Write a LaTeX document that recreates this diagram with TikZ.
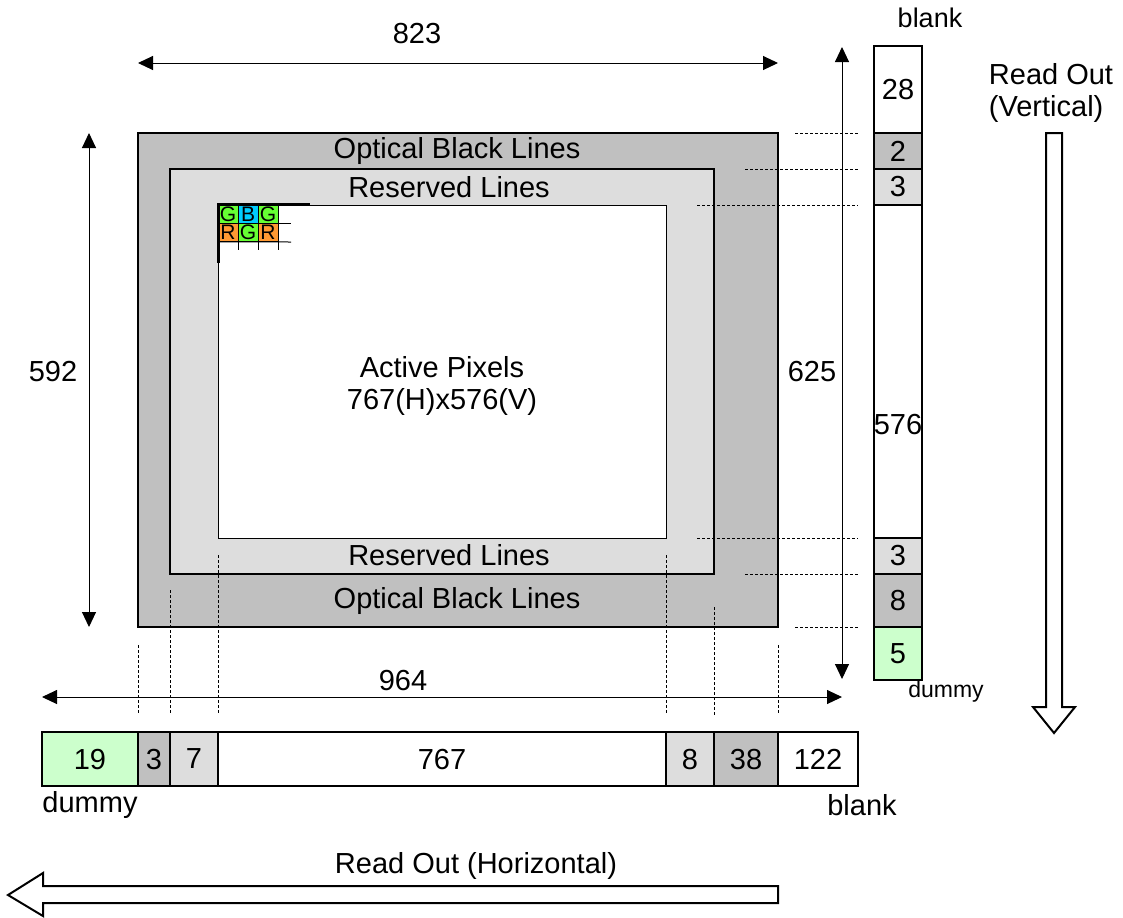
\documentclass[tikz,border=0pt]{standalone}
\usepackage{fontspec}
\setmainfont{Liberation Sans}
\usepackage{xcolor}
\definecolor{obgray}{HTML}{C0C0C0}
\definecolor{resgray}{HTML}{DDDDDD}
\definecolor{dummygreen}{HTML}{CCFFCC}
\definecolor{pixgreen}{HTML}{66FF33}
\definecolor{pixblue}{HTML}{00CCFF}
\definecolor{pixorange}{HTML}{FF9933}
\usetikzlibrary{positioning,arrows.meta}

\begin{document}
\begin{tikzpicture}[x=0.5pt,y=-0.5pt,
      area/.style={draw, line width=1pt, inner sep=0pt, outer sep=0pt},
      cellbox/.style={draw, line width=1pt, inner sep=0pt, outer sep=0pt,
                  font=\fontsize{14.5}{17}\selectfont},
      colw/.style={minimum width=24pt},
      rowh/.style={minimum height=27pt},
      pix/.style={draw, line width=0.4pt, inner sep=0pt, outer sep=0pt,
                  minimum width=10pt, minimum height=9.25pt, font=\fontsize{10.5}{10.5}\selectfont},
      lbl/.style={inner sep=0pt, font=\fontsize{14.5}{16}\selectfont},
      dimarr/.style={{Triangle[length=7.5pt,width=7pt]}-{Triangle[length=7.5pt,width=7pt]}, line width=0.5pt},
      guide/.style={line width=0.5pt, dash pattern=on 1.5pt off 1pt},
      blockarr/.style={draw, line width=1pt, fill=white, line join=miter}]
    \useasboundingbox (0,0) rectangle (1123,917);
    % sensor areas
    \node[area, fill=obgray, minimum width=320pt, minimum height=247pt] (ob) at (458,380) {};
    \node[area, fill=resgray, minimum width=272pt, minimum height=202.5pt] (res) at (442,371.5) {};
    \node[draw, line width=0.5pt, fill=white, inner sep=0pt, outer sep=0pt,
          minimum width=224pt, minimum height=166.5pt] (act) at (442,371.5) {};
    \node[lbl] (obtop) at (457,151) {Optical Black Lines};
    \node[lbl] (restop) at (449,187) {Reserved Lines};
    \node[lbl] (resbot) at (449,555) {Reserved Lines};
    \node[lbl] (obbot) at (457,601) {Optical Black Lines};
    \node[lbl, align=center] (acttxt) at (442,386) {Active Pixels\\767(H)x576(V)};
    % colour filter corner
    \foreach \col/\row/\clr/\ltr in {0/0/pixgreen/G,1/0/pixblue/B,2/0/pixgreen/G,
                                     0/1/pixorange/R,1/1/pixgreen/G,2/1/pixorange/R}
      \node[pix, fill=\clr] (px\col\row) at (228+20*\col,214+18.5*\row) {\ltr};
    \draw[line width=1.5pt] (310,204) -| (218,263);
    \draw[line width=0.5pt] (px20.south east) -- ++(13,0);
    \draw[line width=0.5pt] (px01.south west) -- (291,242);
    \foreach \col in {0,1,2}
      \draw[line width=0.5pt] (px\col1.south east) -- ++(0,8);
    % vertical line counts
    \node[cellbox, colw, fill=white, minimum height=43.5pt] (v28) at (898,89.5) {28};
    \node[cellbox, colw, fill=obgray, minimum height=18pt, below=0pt of v28] (v2) {2};
    \node[cellbox, colw, fill=resgray, minimum height=18pt, below=0pt of v2] (v3a) {3};
    \node[cellbox, colw, fill=white, minimum height=166.5pt, below=0pt of v3a] (v576) {};
    \node[cellbox, colw, fill=resgray, minimum height=18pt, below=0pt of v576] (v3b) {3};
    \node[cellbox, colw, fill=obgray, minimum height=26.5pt, below=0pt of v3b] (v8) {8};
    \node[cellbox, colw, fill=dummygreen, minimum height=26.5pt, below=0pt of v8] (v5) {5};
    \node[lbl] (v576txt) at (898,425) {576};
    \node[lbl, font=\fontsize{13.5}{15}\selectfont] (vblank) at (930,18) {blank};
    \node[lbl, font=\fontsize{11.5}{13}\selectfont] (vdummy) at (946,692) {dummy};
    % horizontal pixel counts
    \node[cellbox, rowh, fill=dummygreen, minimum width=48pt] (h19) at (90,759) {19};
    \node[cellbox, rowh, fill=obgray, minimum width=16pt, right=0pt of h19] (h3) {3};
    \node[cellbox, rowh, fill=resgray, minimum width=24pt, right=0pt of h3] (h7) {7};
    \node[cellbox, rowh, fill=white, minimum width=224pt, right=0pt of h7] (h767) {767};
    \node[cellbox, rowh, fill=resgray, minimum width=24pt, right=0pt of h767] (h8) {8};
    \node[cellbox, rowh, fill=obgray, minimum width=32pt, right=0pt of h8] (h38) {38};
    \node[cellbox, rowh, fill=white, minimum width=40pt, right=0pt of h38] (h122) {122};
    \node[lbl] (hdummy) at (90,805) {dummy};
    \node[lbl] (hblank) at (862,805) {blank};
    % dimensions
    \coordinate (d823l) at (138,63);  \coordinate (d823r) at (778,63);
    \coordinate (d592t) at (89,133);  \coordinate (d592b) at (89,627);
    \coordinate (d625t) at (842,47);  \coordinate (d625b) at (842,679);
    \coordinate (d964l) at (42,697);  \coordinate (d964r) at (842,697);
    \draw[dimarr] (d823l) -- (d823r);
    \draw[dimarr] (d592t) -- (d592b);
    \draw[dimarr] (d625t) -- (d625b);
    \draw[dimarr] (d964l) -- (d964r);
    \node[lbl] (l823) at (417,34) {823};
    \node[lbl] (l592) at (53,372) {592};
    \node[lbl] (l625) at (812,372) {625};
    \node[lbl] (l964) at (403,680) {964};
    % guide lines
    \foreach \y/\x in {133/795,169/745,205/697,538/697,574/745,627/795}
      \draw[guide] (\x,\y) -- (858,\y);
    \foreach \x/\y in {138/645,170/590,218/555,666/555,714/607,778/645}
      \draw[guide] (\x,\y) -- (\x,715);
    % read out directions
    \draw[blockarr] (1046,133) -- (1046,707) -- (1033,707) -- (1054,733)
                    -- (1075,707) -- (1062,707) -- (1062,133) -- cycle;
    \draw[blockarr] (778,886) -- (43,886) -- (43,873) -- (8,895)
                    -- (43,916) -- (43,903) -- (778,903) -- cycle;
    \node[lbl, align=left] (rov) at (1051,93) {Read Out\\(Vertical)};
    \node[lbl] (roh) at (476,866) {Read Out (Horizontal)};
  \end{tikzpicture}
\end{document}
